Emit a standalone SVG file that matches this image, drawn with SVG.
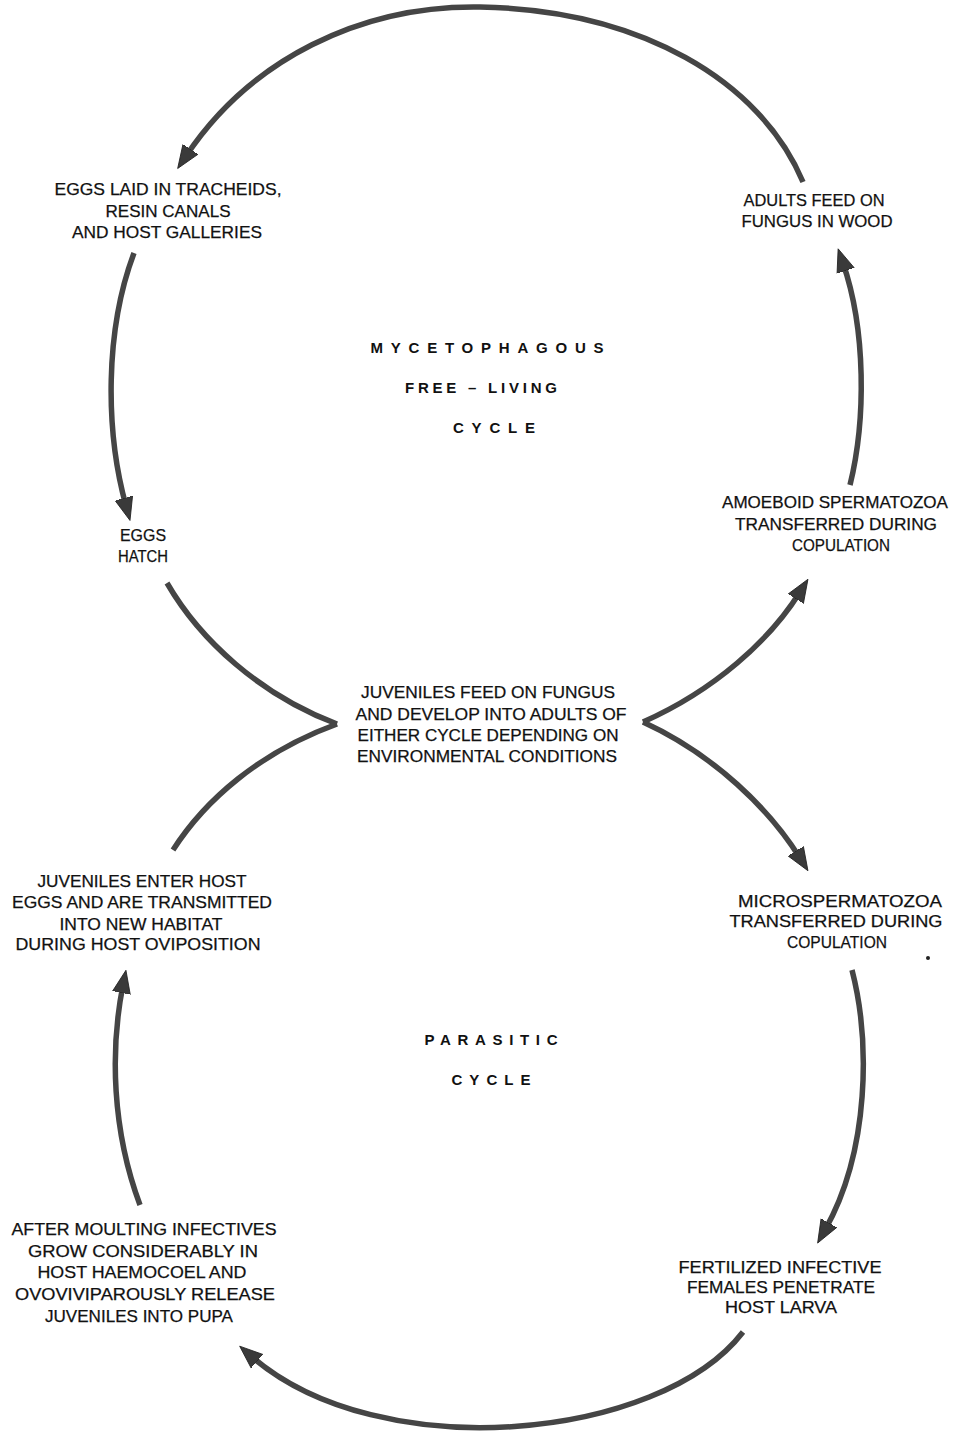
<svg xmlns="http://www.w3.org/2000/svg" width="959" height="1435" viewBox="0 0 959 1435">
<style>
.t{font-family:"Liberation Sans",Arial,sans-serif;font-size:17px;fill:#111;stroke:#111;stroke-width:0.25;text-anchor:middle}
.h{font-family:"Liberation Sans",Arial,sans-serif;font-size:15px;font-weight:bold;fill:#111;text-anchor:middle}
.c{fill:none;stroke:#454545;stroke-width:5.5;stroke-linecap:butt}
</style>
<defs>
<marker id="ah" markerUnits="userSpaceOnUse" markerWidth="24" markerHeight="20" refX="8" refY="9" orient="auto" viewBox="0 0 24 18">
<path d="M0,0 L23,9 L0,18 z" fill="#3a3a3a" stroke="#222" stroke-width="0.8"/>
</marker>
</defs>
<rect width="959" height="1435" fill="#ffffff"/>
<g id="connectors">
<path class="c" marker-end="url(#ah)" d="M803 182 C760 80 640 10 480 7 C360 5 250 60 186 156"/>
<path class="c" marker-end="url(#ah)" d="M134 253 C105 330 105 430 126 506"/>
<path class="c" marker-end="url(#ah)" d="M850 485 C866 420 866 330 843 263"/>
<path class="c" d="M167 583 C200 640 260 695 337 724"/>
<path class="c" d="M337 724 C260 752 205 800 173 850"/>
<path class="c" marker-end="url(#ah)" d="M643 722 C715 690 770 640 800 592"/>
<path class="c" marker-end="url(#ah)" d="M643 722 C715 755 770 810 800 858"/>
<path class="c" marker-end="url(#ah)" d="M140 1205 C112 1130 110 1050 123 985"/>
<path class="c" marker-end="url(#ah)" d="M852 970 C870 1040 870 1150 825 1230"/>
<path class="c" marker-end="url(#ah)" d="M743 1332 C660 1440 380 1468 251 1356"/>
</g>
<g id="eggs-laid">
<text class="t" x="168" y="195" textLength="227" lengthAdjust="spacingAndGlyphs">EGGS LAID IN TRACHEIDS,</text>
<text class="t" x="168" y="217" textLength="125" lengthAdjust="spacingAndGlyphs">RESIN CANALS</text>
<text class="t" x="167" y="238" textLength="190" lengthAdjust="spacingAndGlyphs">AND HOST GALLERIES</text>
</g>
<g id="adults-feed">
<text class="t" x="814" y="206" textLength="141" lengthAdjust="spacingAndGlyphs">ADULTS FEED ON</text>
<text class="t" x="817" y="227" textLength="151" lengthAdjust="spacingAndGlyphs">FUNGUS IN WOOD</text>
</g>
<g id="title-free">
<text class="h" x="487" y="353" textLength="233" lengthAdjust="spacing">MYCETOPHAGOUS</text>
<text class="h" x="481" y="393" textLength="152" lengthAdjust="spacing">FREE – LIVING</text>
<text class="h" x="494" y="433" textLength="82" lengthAdjust="spacing">CYCLE</text>
</g>
<g id="eggs-hatch">
<text class="t" x="143" y="541" textLength="46" lengthAdjust="spacingAndGlyphs">EGGS</text>
<text class="t" x="143" y="562" textLength="50" lengthAdjust="spacingAndGlyphs">HATCH</text>
</g>
<g id="amoeboid">
<text class="t" x="835" y="508" textLength="226" lengthAdjust="spacingAndGlyphs">AMOEBOID SPERMATOZOA</text>
<text class="t" x="836" y="530" textLength="202" lengthAdjust="spacingAndGlyphs">TRANSFERRED DURING</text>
<text class="t" x="841" y="551" textLength="98" lengthAdjust="spacingAndGlyphs">COPULATION</text>
</g>
<g id="juveniles-feed">
<text class="t" x="488" y="698" textLength="254" lengthAdjust="spacingAndGlyphs">JUVENILES FEED ON FUNGUS</text>
<text class="t" x="491" y="720" textLength="271" lengthAdjust="spacingAndGlyphs">AND DEVELOP INTO ADULTS OF</text>
<text class="t" x="488" y="741" textLength="261" lengthAdjust="spacingAndGlyphs">EITHER CYCLE DEPENDING ON</text>
<text class="t" x="487" y="762" textLength="260" lengthAdjust="spacingAndGlyphs">ENVIRONMENTAL CONDITIONS</text>
</g>
<g id="juveniles-enter">
<text class="t" x="142" y="887" textLength="209" lengthAdjust="spacingAndGlyphs">JUVENILES ENTER HOST</text>
<text class="t" x="142" y="908" textLength="260" lengthAdjust="spacingAndGlyphs">EGGS AND ARE TRANSMITTED</text>
<text class="t" x="141" y="930" textLength="163" lengthAdjust="spacingAndGlyphs">INTO NEW HABITAT</text>
<text class="t" x="138" y="950" textLength="245" lengthAdjust="spacingAndGlyphs">DURING HOST OVIPOSITION</text>
</g>
<g id="microspermatozoa">
<text class="t" x="840" y="907" textLength="204" lengthAdjust="spacingAndGlyphs">MICROSPERMATOZOA</text>
<text class="t" x="836" y="927" textLength="213" lengthAdjust="spacingAndGlyphs">TRANSFERRED DURING</text>
<text class="t" x="837" y="948" textLength="100" lengthAdjust="spacingAndGlyphs">COPULATION</text>
</g>
<g id="title-parasitic">
<text class="h" x="491" y="1045" textLength="133" lengthAdjust="spacing">PARASITIC</text>
<text class="h" x="491" y="1085" textLength="79" lengthAdjust="spacing">CYCLE</text>
</g>
<g id="after-moulting">
<text class="t" x="144" y="1235" textLength="265" lengthAdjust="spacingAndGlyphs">AFTER MOULTING INFECTIVES</text>
<text class="t" x="143" y="1257" textLength="230" lengthAdjust="spacingAndGlyphs">GROW CONSIDERABLY IN</text>
<text class="t" x="142" y="1278" textLength="209" lengthAdjust="spacingAndGlyphs">HOST HAEMOCOEL AND</text>
<text class="t" x="145" y="1300" textLength="260" lengthAdjust="spacingAndGlyphs">OVOVIVIPAROUSLY RELEASE</text>
<text class="t" x="139" y="1322" textLength="188" lengthAdjust="spacingAndGlyphs">JUVENILES INTO PUPA</text>
</g>
<g id="fertilized">
<text class="t" x="780" y="1273" textLength="203" lengthAdjust="spacingAndGlyphs">FERTILIZED INFECTIVE</text>
<text class="t" x="781" y="1293" textLength="188" lengthAdjust="spacingAndGlyphs">FEMALES PENETRATE</text>
<text class="t" x="781" y="1313" textLength="112" lengthAdjust="spacingAndGlyphs">HOST LARVA</text>
</g>
<circle cx="928" cy="958" r="2" fill="#222"/>
</svg>
